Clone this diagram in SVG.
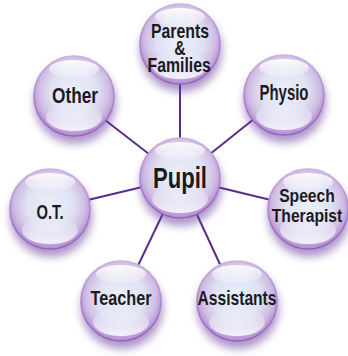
<svg xmlns="http://www.w3.org/2000/svg" xmlns:xlink="http://www.w3.org/1999/xlink" width="348" height="356" viewBox="0 0 348 356">
<style>
.lbl{font-family:"Liberation Sans",Arial,sans-serif;font-weight:bold;fill:#1c1a1e;text-anchor:middle}
.conn line{stroke:#5a2c8e;stroke-width:2}
</style>
<defs>
<radialGradient id="body" cx="50%" cy="45%" r="53%">
<stop offset="0" stop-color="#eaf0fa"/>
<stop offset="0.55" stop-color="#e0e2f3"/>
<stop offset="0.83" stop-color="#d0bde4"/>
<stop offset="1" stop-color="#b592d2"/>
</radialGradient>
<linearGradient id="hi" x1="0" y1="0" x2="0" y2="1">
<stop offset="0" stop-color="#fff" stop-opacity="0.95"/>
<stop offset="1" stop-color="#fff" stop-opacity="0.15"/>
</linearGradient>
<linearGradient id="lo" x1="0" y1="1" x2="0" y2="0">
<stop offset="0" stop-color="#f6f7fd" stop-opacity="0.95"/>
<stop offset="1" stop-color="#f6f7fd" stop-opacity="0"/>
</linearGradient>
<linearGradient id="rim" x1="0" y1="0" x2="0" y2="1">
<stop offset="0" stop-color="#c7b3dc"/>
<stop offset="1" stop-color="#955fbd"/>
</linearGradient>
<filter id="sh" x="-50%" y="-50%" width="200%" height="200%">
<feGaussianBlur stdDeviation="4"/>
</filter>
<g id="bubble">
<circle cx="1" cy="7" r="41" fill="#6b3f9e" opacity="0.55" filter="url(#sh)"/>
<circle r="40" fill="url(#body)" stroke="url(#rim)" stroke-width="1.6"/>
<ellipse cx="0" cy="-27" rx="25" ry="9" fill="url(#hi)"/>
<ellipse cx="0" cy="21" rx="28" ry="14" fill="url(#lo)"/>
</g>
</defs>
<g class="conn" id="connectors">
<line x1="180" y1="178" x2="180" y2="44"/>
<line x1="180" y1="178" x2="74" y2="96"/>
<line x1="180" y1="178" x2="284" y2="95"/>
<line x1="180" y1="178" x2="308" y2="209"/>
<line x1="180" y1="178" x2="50" y2="209"/>
<line x1="180" y1="178" x2="121" y2="301"/>
<line x1="180" y1="178" x2="237" y2="301"/>
</g>
<g id="node-parents">
<use xlink:href="#bubble" x="180" y="44"/>
<text class="lbl" font-size="20" transform="translate(180 38) scale(0.79 1)"><tspan x="0" y="0">Parents</tspan><tspan x="0" y="17">&amp;</tspan><tspan x="-1" y="34">Families</tspan></text>
</g>
<g id="node-other">
<use xlink:href="#bubble" x="74" y="96"/>
<text class="lbl" font-size="22" x="75" y="103" textLength="46" lengthAdjust="spacingAndGlyphs">Other</text>
</g>
<g id="node-physio">
<use xlink:href="#bubble" x="284" y="95"/>
<text class="lbl" font-size="22" x="284" y="100" textLength="49" lengthAdjust="spacingAndGlyphs">Physio</text>
</g>
<g id="node-pupil">
<use xlink:href="#bubble" x="180" y="178"/>
<text class="lbl" font-size="30" x="180" y="188" textLength="54" lengthAdjust="spacingAndGlyphs">Pupil</text>
</g>
<g id="node-speech">
<use xlink:href="#bubble" x="308" y="209"/>
<text class="lbl" font-size="18" transform="translate(307 202) scale(0.87 1)"><tspan x="0" y="0">Speech</tspan><tspan x="0" y="20">Therapist</tspan></text>
</g>
<g id="node-ot">
<use xlink:href="#bubble" x="50" y="209"/>
<text class="lbl" font-size="21" x="50" y="219" textLength="27" lengthAdjust="spacingAndGlyphs">O.T.</text>
</g>
<g id="node-teacher">
<use xlink:href="#bubble" x="121" y="301"/>
<text class="lbl" font-size="21" x="121" y="305" textLength="61" lengthAdjust="spacingAndGlyphs">Teacher</text>
</g>
<g id="node-assistants">
<use xlink:href="#bubble" x="237" y="301"/>
<text class="lbl" font-size="21" x="237" y="305" textLength="79" lengthAdjust="spacingAndGlyphs">Assistants</text>
</g>
</svg>
